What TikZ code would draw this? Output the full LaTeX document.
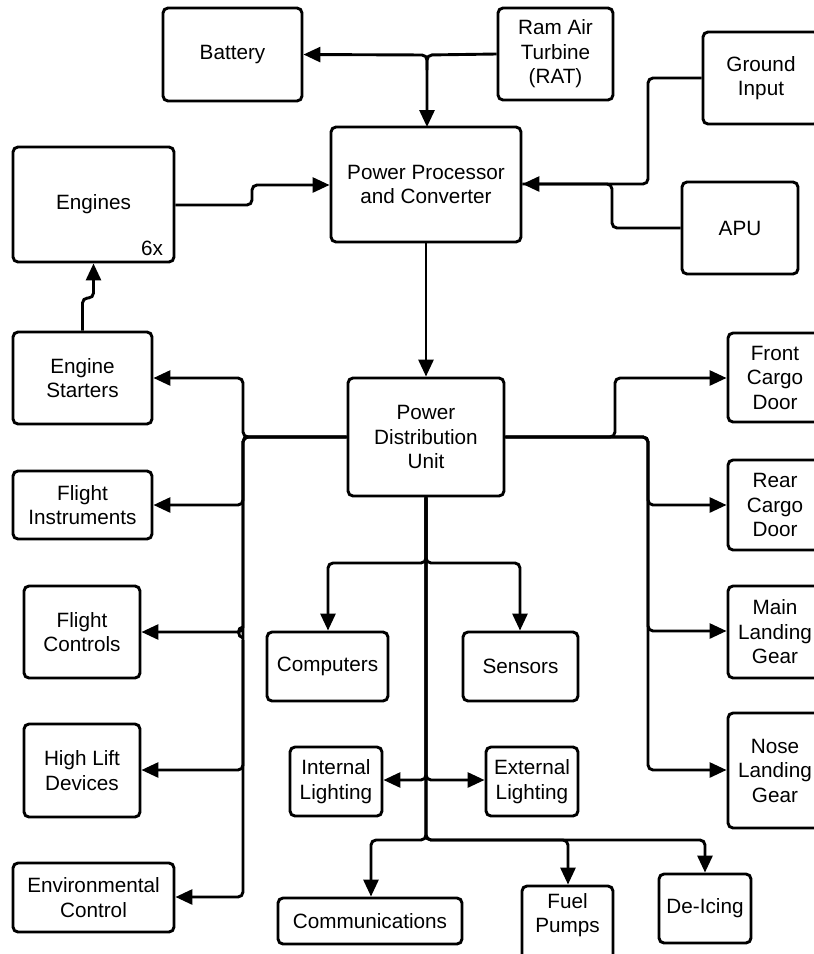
\documentclass[tikz,border=0pt]{standalone}
\usepackage{fontspec}
\setmainfont{Liberation Sans}
\usetikzlibrary{arrows.meta}
\begin{document}
\begin{tikzpicture}[x=1pt,y=-1pt,
  box/.style={draw, line width=2.9pt, rounded corners=5pt, align=center,
    inner sep=0pt, font=\fontsize{20.7}{24.5}\selectfont},
  lbl/.style={align=center, inner sep=0pt, font=\fontsize{20.7}{24.5}\selectfont},
  wire/.style={line width=2.9pt, rounded corners=5pt},
  feed/.style={wire, -{Triangle[length=17pt,width=15pt]}}]
\useasboundingbox (0,0) rectangle (814,954);

% sources
\node[box, minimum width=139pt, minimum height=93pt] (battery) at (232.5,54.5) {Battery};
\node[box, minimum width=115pt, minimum height=92pt] (rat) at (555.5,54) {Ram Air\\Turbine\\(RAT)};
\node[box, minimum width=116pt, minimum height=92pt] (ground) at (761,78) {Ground\\Input};
\node[box, minimum width=116pt, minimum height=92pt] (apu) at (740,228) {APU};
\node[box, minimum width=190pt, minimum height=115pt] (ppc) at (426,184.5) {Power Processor\\and Converter};
\node[box, minimum width=161pt, minimum height=115pt] (engines) at (93.5,204.5) {Engines};
\node[lbl] (sixx) at (152,248) {6x};
\node[box, minimum width=139pt, minimum height=92pt] (starters) at (82.5,378) {Engine\\Starters};

% distribution
\node[box, minimum width=156pt, minimum height=118pt] (pdu) at (426,437) {Power\\Distribution\\Unit};

% right-hand loads
\node[box, minimum width=94pt, minimum height=89pt] (front) at (775,377.5) {Front\\Cargo\\Door};
\node[box, minimum width=94pt, minimum height=90pt] (rear) at (775,505) {Rear\\Cargo\\Door};
\node[box, minimum width=94pt, minimum height=92pt] (mlg) at (775,632) {Main\\Landing\\Gear};
\node[box, minimum width=94pt, minimum height=115pt] (nlg) at (775,770.5) {Nose\\Landing\\Gear};

% left-hand loads
\node[box, minimum width=139pt, minimum height=68pt] (instr) at (82.5,505) {Flight\\Instruments};
\node[box, minimum width=116pt, minimum height=92pt] (fctl) at (82,632) {Flight\\Controls};
\node[box, minimum width=116pt, minimum height=93pt] (hld) at (82,770.5) {High Lift\\Devices};
\node[box, minimum width=161pt, minimum height=69pt] (env) at (93.5,897.5) {Environmental\\Control};

% central loads
\node[box, minimum width=121pt, minimum height=69pt] (comp) at (327.5,666.5) {Computers};
\node[box, minimum width=115pt, minimum height=69pt] (sens) at (520.5,666.5) {Sensors};
\node[box, minimum width=92pt, minimum height=69pt] (intl) at (336,781.5) {Internal\\Lighting};
\node[box, minimum width=92pt, minimum height=69pt] (extl) at (532,781.5) {External\\Lighting};
\node[box, minimum width=184pt, minimum height=46pt] (comm) at (370,921) {Communications};
\node[box, minimum width=91pt, minimum height=76pt] (fuel) at (567.5,924) {};
\node[lbl] (fueltext) at (567.5,915) {Fuel\\Pumps};
\node[box, minimum width=92pt, minimum height=69pt] (deice) at (705,908.5) {De-Icing};

% junction points
\coordinate (ratJ) at (427,55);
\coordinate (ratJlow) at (427,70);
\coordinate (pduL) at (243,437);
\coordinate (pduR) at (648,437);

% inputs to the power processor
\draw[feed] (rat.west) -- (ratJ) -- (427,127);
\draw[feed] (ratJlow) -- (ratJ) -- (battery.east);
\draw[feed] (engines.east |- 0,205) -- (252,205) -- (252,185) -- (ppc.west |- 0,185);
\draw[feed] (ground.west) -- (648,78) -- (648,184) -- (ppc.east |- 0,184);
\draw[wire] (apu.west) -- (612,228) -- (612,184) -- (ppc.east |- 0,184);
\draw[feed] (starters.north) -- (82.5,298) -- (93.5,298) -- (engines.south);
\draw[feed] (ppc.south) -- (pdu.north);

% left bus
\draw[feed] (pdu.west) -- (pduL) -- (243,378) -- (starters.east |- 0,378);
\draw[feed] (pdu.west) -- (pduL) -- (243,505) -- (instr.east |- 0,505);
\draw[feed] (pdu.west) -- (pduL) -- (243,632) -- (fctl.east |- 0,632);
\draw[feed] (pdu.west) -- (pduL) -- (243,770) -- (hld.east |- 0,770);
\draw[feed] (243,640) -- (243,897) -- (env.east |- 0,897);
\draw[line width=2.9pt] (243,627) .. controls (237,627) and (237,637) .. (243,638);

% right bus
\draw[feed] (pdu.east) -- (615,437) -- (615,378) -- (front.west |- 0,378);
\draw[feed] (pdu.east) -- (pduR) -- (648,505) -- (rear.west |- 0,505);
\draw[feed] (pdu.east) -- (pduR) -- (648,631) -- (mlg.west |- 0,631);
\draw[feed] (pdu.east) -- (pduR) -- (648,770) -- (nlg.west |- 0,770);

% central trunk
\draw[feed] (pdu.south) -- (426,563) -- (328,563) -- (comp.north -| 328,0);
\draw[feed] (pdu.south) -- (426,563) -- (520,563) -- (sens.north -| 520,0);
\draw[feed] (pdu.south) -- (426,780) -- (intl.east |- 0,780);
\draw[feed] (pdu.south) -- (426,780) -- (extl.west |- 0,780);
\draw[feed] (pdu.south) -- (426,840) -- (371,840) -- (comm.north -| 371,0);
\draw[feed] (pdu.south) -- (426,840) -- (568,840) -- (fuel.north -| 568,0);
\draw[feed] (pdu.south) -- (426,840) -- (705,840) -- (deice.north);
\end{tikzpicture}
\end{document}
